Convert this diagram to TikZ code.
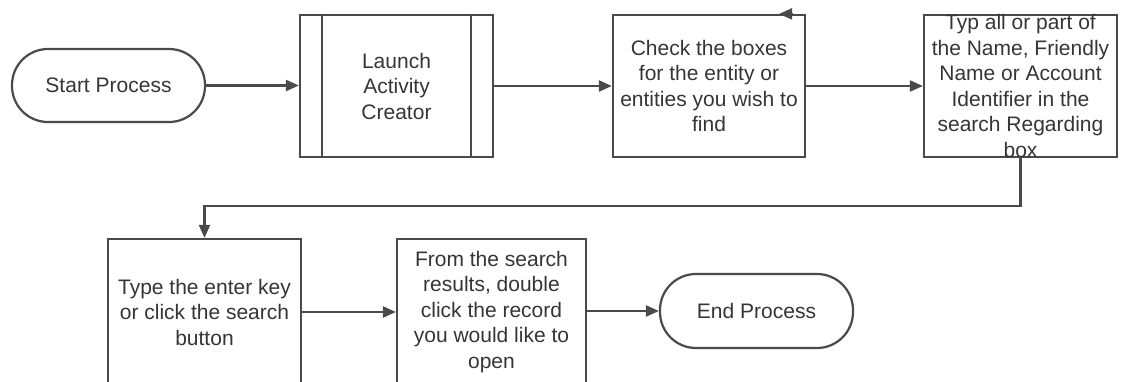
\documentclass[tikz,border=0pt]{standalone}
\usepackage{fontspec}
\setmainfont{Liberation Sans}
\usetikzlibrary{arrows.meta,calc}
\definecolor{edgegray}{HTML}{4A4A4A}
\definecolor{txtgray}{HTML}{353535}
\begin{document}
\begin{tikzpicture}[x=1pt,y=-1pt,
  every node/.style={font=\fontsize{21}{25.5}\selectfont, text=txtgray, align=center, inner sep=0pt},
  stepbox/.style={draw=edgegray, line width=2.2pt, minimum width=193pt, minimum height=142pt},
  terminal/.style={draw=edgegray, line width=2.2pt, minimum width=193pt, minimum height=73pt, rounded corners=36pt},
  flow/.style={draw=edgegray, line width=2.2pt, -{Triangle[length=13pt,width=11pt]}}]
  \useasboundingbox (0,0) rectangle (1122,381);

  % first row
  \node[terminal] (start) at (108.5,85.5) {Start Process};
  \node[stepbox] (launch) at (396.5,86) {Launch\\Activity\\Creator};
  \node[stepbox, minimum width=192pt] (check) at (709,86) {Check the boxes\\for the entity or\\entities you wish to\\find};
  \node[stepbox] (typ) at (1020.5,86) {};
  \node (typlabel) at (typ.center) {Typ all or part of\\the Name, Friendly\\Name or Account\\Identifier in the\\search Regarding\\box};

  % side bars of the predefined process
  \draw[edgegray, line width=2.2pt] ($(launch.north west)+(23,0)$) -- ($(launch.south west)+(23,0)$);
  \draw[edgegray, line width=2.2pt] ($(launch.north east)+(-23,0)$) -- ($(launch.south east)+(-23,0)$);

  % second row
  \node[stepbox, minimum height=146pt] (enterkey) at (204.5,312) {Type the enter key\\or click the search\\button};
  \node[stepbox, minimum width=189pt, minimum height=146pt] (record) at (491.5,312) {From the search\\results, double\\click the record\\you would like to\\open};
  \node[terminal, minimum height=74pt] (endp) at (756.5,311) {End Process};

  % connectors
  \draw[flow] (start.east) -- (launch.west |- start.east);
  \draw[flow] (launch.east) -- (check.west);
  \draw[flow] (check.east) -- (typ.west);
  \coordinate (bend) at (0,206);
  \draw[flow] (typ.south) -- (typ.south |- bend) -- (enterkey.north |- bend) -- (enterkey.north);
  \draw[flow] (enterkey.east) -- (record.west);
  \draw[flow] (record.east |- endp.west) -- (endp.west);

  % arrowhead on the top edge of the check box
  \coordinate (tipstart) at ($(check.north east)+(-14,0)$);
  \coordinate (tipend) at ($(check.north east)+(-27,0)$);
  \draw[flow] (tipstart) -- (tipend);
\end{tikzpicture}
\end{document}
